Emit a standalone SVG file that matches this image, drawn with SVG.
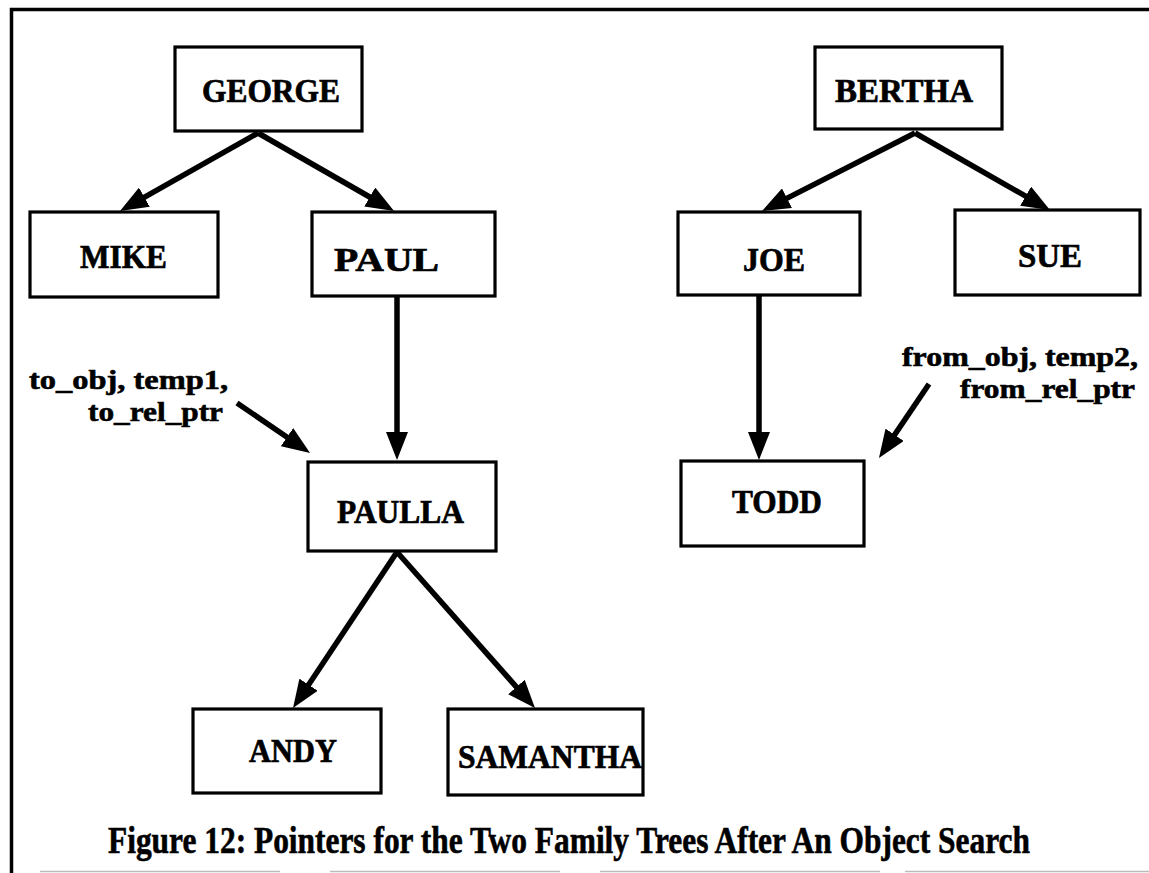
<svg xmlns="http://www.w3.org/2000/svg" width="1149" height="873" viewBox="0 0 1149 873">
<defs>
<marker id="ah" viewBox="0 0 28 22" refX="14" refY="11" markerWidth="28" markerHeight="22" markerUnits="userSpaceOnUse" orient="auto">
<path d="M0,0 L28,11 L0,22 Z" fill="#000"/>
</marker>
<style>
.box{fill:#fff;stroke:#000;stroke-width:3.2}
.t{font-family:"Liberation Serif","Times New Roman",serif;font-weight:bold;font-size:34px;fill:#000;stroke:#000;stroke-width:0.7}
.lbl{font-family:"Liberation Serif","Times New Roman",serif;font-weight:bold;font-size:28px;fill:#000;stroke:#000;stroke-width:0.6}
.cap{font-family:"Liberation Serif","Times New Roman",serif;font-weight:bold;font-size:38px;fill:#000;stroke:#000;stroke-width:0.6}
.c{stroke:#000;stroke-width:5.5;fill:none;marker-end:url(#ah)}
</style>
</defs>
<rect width="1149" height="873" fill="#fff"/>
<g id="frame">
<path d="M11.5,873 L11.5,9.5 L1149,9.5" fill="none" stroke="#000" stroke-width="3.5"/>
<path d="M40,871.5 H280 M330,871.5 H560 M600,871.5 H880 M905,871.5 H1149" stroke="#bbb" stroke-width="1.5"/>
</g>
<g id="connectors">
<line class="c" x1="258" y1="133" x2="132.2" y2="204.1"/>
<line class="c" x1="258" y1="133" x2="381.9" y2="204.0"/>
<line class="c" x1="915" y1="133" x2="774.5" y2="204.6"/>
<line class="c" x1="915" y1="133" x2="1037.8" y2="203.1"/>
<line class="c" x1="397" y1="296" x2="397" y2="446"/>
<line class="c" x1="759" y1="296" x2="759" y2="446"/>
<line class="c" x1="397" y1="552" x2="300.8" y2="696.4"/>
<line class="c" x1="397" y1="552" x2="525.7" y2="697.5"/>
<line class="c" x1="237" y1="403" x2="298.5" y2="445.1"/>
<line class="c" x1="929" y1="384" x2="886.8" y2="446.4"/>
</g>
<g id="george"><rect class="box" x="175" y="47" width="187" height="84"/><text class="t" x="202" y="102" textLength="138" lengthAdjust="spacingAndGlyphs">GEORGE</text></g>
<g id="bertha"><rect class="box" x="815" y="47" width="187" height="82"/><text class="t" x="835" y="102" textLength="138" lengthAdjust="spacingAndGlyphs">BERTHA</text></g>
<g id="mike"><rect class="box" x="30" y="212" width="188" height="85"/><text class="t" x="80" y="268" textLength="87" lengthAdjust="spacingAndGlyphs">MIKE</text></g>
<g id="paul"><rect class="box" x="312" y="212" width="183" height="84"/><text class="t" x="334" y="271" textLength="105" lengthAdjust="spacingAndGlyphs">PAUL</text></g>
<g id="joe"><rect class="box" x="678" y="212" width="182" height="83"/><text class="t" x="743" y="271" textLength="62" lengthAdjust="spacingAndGlyphs">JOE</text></g>
<g id="sue"><rect class="box" x="955" y="210" width="185" height="85"/><text class="t" x="1018" y="267" textLength="64" lengthAdjust="spacingAndGlyphs">SUE</text></g>
<g id="paulla"><rect class="box" x="308" y="462" width="188" height="89"/><text class="t" x="337" y="523" textLength="127" lengthAdjust="spacingAndGlyphs">PAULLA</text></g>
<g id="todd"><rect class="box" x="681" y="461" width="183" height="85"/><text class="t" x="732" y="513" textLength="90" lengthAdjust="spacingAndGlyphs">TODD</text></g>
<g id="andy"><rect class="box" x="193" y="709" width="188" height="84"/><text class="t" x="249" y="762" textLength="88" lengthAdjust="spacingAndGlyphs">ANDY</text></g>
<g id="samantha"><rect class="box" x="448" y="709" width="195" height="86"/><text class="t" x="458" y="768" textLength="184" lengthAdjust="spacingAndGlyphs">SAMANTHA</text></g>
<g id="label-to">
<text class="lbl" x="29" y="389" textLength="199" lengthAdjust="spacingAndGlyphs">to_obj, temp1,</text>
<text class="lbl" x="88" y="421" textLength="135" lengthAdjust="spacingAndGlyphs">to_rel_ptr</text>
</g>
<g id="label-from">
<text class="lbl" x="902" y="366" textLength="236" lengthAdjust="spacingAndGlyphs">from_obj, temp2,</text>
<text class="lbl" x="960" y="398" textLength="175" lengthAdjust="spacingAndGlyphs">from_rel_ptr</text>
</g>
<g id="caption">
<text class="cap" transform="scale(0.8,1)" x="135" y="853" textLength="1152.5" lengthAdjust="spacingAndGlyphs">Figure 12: Pointers for the Two Family Trees After An Object Search</text>
</g>
</svg>
